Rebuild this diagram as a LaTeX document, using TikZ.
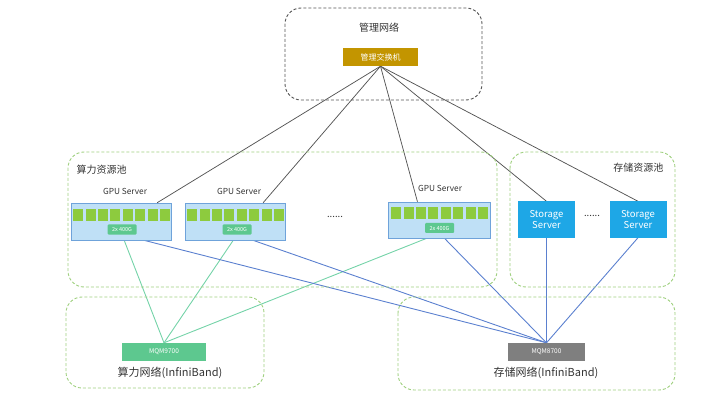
\documentclass[tikz,border=0pt]{standalone}
\usepackage{fontspec}
\setmainfont{Noto Sans CJK SC}
\usetikzlibrary{calc,backgrounds}
\definecolor{mgray}{HTML}{555555}
\definecolor{pgreen}{HTML}{9FD07F}
\definecolor{gold}{HTML}{C39500}
\definecolor{srvfill}{HTML}{BFE0F6}
\definecolor{srvline}{HTML}{6FA3DA}
\definecolor{sqgreen}{HTML}{8DCB3E}
\definecolor{portgreen}{HTML}{5DC88F}
\definecolor{stblue}{HTML}{1EA7E6}
\definecolor{swgray}{HTML}{7F7F7F}
\definecolor{lgreen}{HTML}{74D3A8}
\definecolor{lblue}{HTML}{5B80CF}
\definecolor{lgray}{HTML}{555555}
\definecolor{txt}{HTML}{333333}
\tikzset{
  mgmtzone/.style={draw=mgray, dash pattern=on 3pt off 2pt, line width=0.9pt, rounded corners=16pt},
  poolzone/.style={draw=pgreen, dash pattern=on 3pt off 2pt, line width=0.9pt, rounded corners=16pt},
  gpubox/.style={draw=srvline, fill=srvfill, line width=0.6pt, minimum width=100pt, minimum height=37pt, inner sep=0pt},
  sq/.style={fill=sqgreen, minimum width=10pt, minimum height=11.5pt, inner sep=0pt},
  port/.style={fill=portgreen, rounded corners=1pt, minimum width=29pt, minimum height=10pt, inner sep=0pt, text=white, font=\fontsize{5.5}{5.5}\selectfont},
  stbox/.style={fill=stblue, minimum width=57pt, minimum height=36pt, inner sep=0pt, text=white, align=center, font=\fontsize{9.5}{11}\selectfont},
  lbl/.style={font=\fontsize{8.3}{9}\selectfont, text=txt},
  zlbl/.style={font=\fontsize{10}{11}\selectfont, text=txt},
  blbl/.style={font=\fontsize{11}{12}\selectfont, text=txt},
  mline/.style={draw=lgray, line width=0.75pt},
  gline/.style={draw=lgreen, line width=0.9pt},
  bline/.style={draw=lblue, line width=0.9pt},
}
\begin{document}
\begin{tikzpicture}[x=1pt,y=-1pt]
\useasboundingbox (0,0) rectangle (712,406);
% zones
\draw[mgmtzone] (285,8) rectangle (482,100);
\draw[poolzone] (68,152) rectangle (497,287);
\draw[poolzone] (510,152) rectangle (675,287);
\draw[poolzone] (66,297) rectangle (264,388);
\draw[poolzone] (398,297) rectangle (675,390);
% labels
\node[zlbl] (mgmtlbl) at (379,28) {管理网络};
\node[zlbl, anchor=west] (cplbl) at (73,170) {算力资源池};
\node[zlbl, anchor=east] (stlbl) at (667,168) {存储资源池};
\node[blbl] (cnlbl) at (170,373) {算力网络(InfiniBand)};
\node[blbl] (snlbl) at (546,373) {存储网络(InfiniBand)};
% management switch
\node[fill=gold, minimum width=75pt, minimum height=18pt, inner sep=0pt, text=white, font=\fontsize{8}{8}\selectfont] (sw) at (380.5,57) {管理交换机};
% GPU servers
\node[gpubox] (g1) at (121,221.5) {};
\node[gpubox] (g2) at (235,221.5) {};
\node[gpubox, minimum width=102pt, minimum height=36pt] (g3) at (439,220) {};
\foreach \b/\x/\y in {g1/73/215, g2/187/215, g3/391/213}{
  \foreach \i in {0,...,7}{
    \node[sq, anchor=north west] (\b sq\i) at (\x+\i*12.4,\y-6) {};
  }
}
\node[port] (p1) at (122,229.5) {2x 400G};
\node[port] (p2) at (237,229.5) {2x 400G};
\node[port] (p3) at (439.5,228) {2x 400G};
\node[lbl] (g1lbl) at (125,191) {GPU Server};
\node[lbl] (g2lbl) at (239,191) {GPU Server};
\node[lbl] (g3lbl) at (440,188) {GPU Server};
\node[lbl, font=\fontsize{9.5}{10}\selectfont] (dots1) at (335,217) {......};
% storage servers
\node[stbox] (s1) at (546.5,219.5) {Storage\\Server};
\node[stbox] (s2) at (638,219.5) {Storage\\Server};
\node[lbl, font=\fontsize{9.5}{10}\selectfont] (dots2) at (592,216) {......};
% IB switches
\node[fill=portgreen, minimum width=84pt, minimum height=18pt, inner sep=0pt, text=white, font=\fontsize{6.5}{6.5}\selectfont] (ib1) at (164,352) {MQM9700};
\node[fill=swgray, minimum width=77pt, minimum height=18pt, inner sep=0pt, text=white, font=\fontsize{6.5}{6.5}\selectfont] (ib2) at (546.5,352) {MQM8700};
% connectors
\begin{scope}[on background layer]
\draw[mline] (sw.south) -- ($(g1.north west)!0.86!(g1.north east)$);
\draw[mline] (sw.south) -- ($(g2.north west)!0.78!(g2.north east)$);
\draw[mline] (sw.south) -- ($(g3.north west)!0.29!(g3.north east)$);
\draw[mline] (sw.south) -- (s1.north);
\draw[mline] (sw.south) -- (s2.north);
\draw[gline] (p1.south) -- (ib1.north);
\draw[gline] (p2.south) -- (ib1.north);
\draw[gline] (p3.south) -- (ib1.north);
\draw[bline] (p1.south) -- (ib2.north);
\draw[bline] (p2.south) -- (ib2.north);
\draw[bline] (p3.south) -- (ib2.north);
\draw[bline] (s1.south) -- (ib2.north);
\draw[bline] (s2.south) -- (ib2.north);
\end{scope}
\end{tikzpicture}
\end{document}
